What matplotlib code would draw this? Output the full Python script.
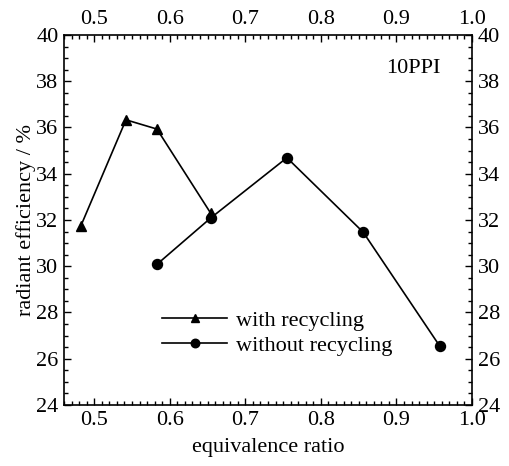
import matplotlib
matplotlib.use('Agg')
import matplotlib.pyplot as plt
from matplotlib.ticker import MultipleLocator

# data
phi_rec = [0.482, 0.542, 0.583, 0.654]
eff_rec = [31.72, 36.33, 35.93, 32.3]
phi_norec = [0.583, 0.654, 0.755, 0.856, 0.957]
eff_norec = [30.08, 32.08, 34.69, 31.47, 26.56]

plt.rcParams['font.family'] = ['Liberation Serif', 'DejaVu Serif']
plt.rcParams['font.size'] = 16

fig = plt.figure(figsize=(5.10, 4.66), dpi=100)
ax = fig.add_axes([0.1255, 0.131, 0.8, 0.794])

ax.plot(phi_rec, eff_rec, color='black', lw=1.2, marker='^', ms=7.5, label='with recycling')
ax.plot(phi_norec, eff_norec, color='black', lw=1.2, marker='o', ms=7.2, label='without recycling')

ax.set_xlim(0.46, 1.0)
ax.set_ylim(24, 40)
ax.xaxis.set_major_locator(MultipleLocator(0.1))
ax.xaxis.set_minor_locator(MultipleLocator(0.01))
ax.yaxis.set_major_locator(MultipleLocator(2))
ax.yaxis.set_minor_locator(MultipleLocator(0.5))
ax.tick_params(which='both', direction='in', top=True, right=True,
               labeltop=True, labelright=True, width=1)
ax.tick_params(which='major', length=5, pad=4)
ax.tick_params(which='minor', length=2.7)
for s in ax.spines.values():
    s.set_linewidth(1.2)

ax.set_xlabel('equivalence ratio', labelpad=6)
ax.set_ylabel('radiant efficiency / %', labelpad=0)
ax.text(0.958, 38.55, '10PPI', ha='right', va='center', fontsize=16)

ax.legend(loc='upper left', bbox_to_anchor=(0.24, 0.255), frameon=False,
          handlelength=2.95, labelspacing=0.2, handletextpad=0.4,
          borderaxespad=0, borderpad=0, markerscale=0.85)

fig.savefig('out.png', dpi=100)
